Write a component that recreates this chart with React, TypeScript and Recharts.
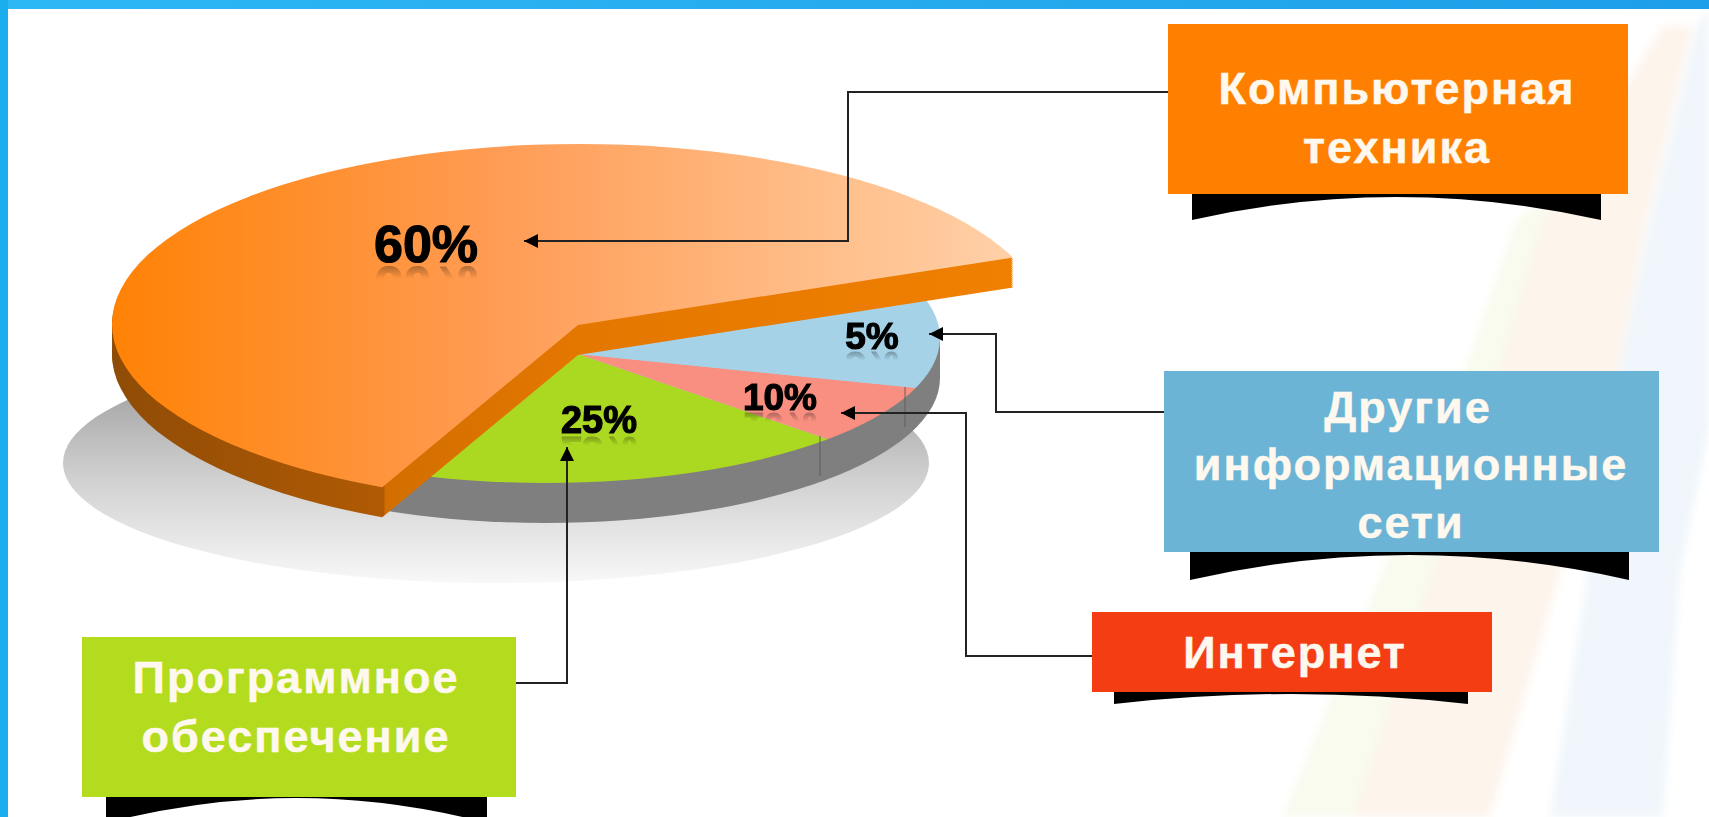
import { Cell, Pie, PieChart } from "recharts";
import type { CSSProperties } from "react";

const categories = ["Компьютерная техника", "Программное обеспечение", "Интернет", "Другие информационные сети"];
const shares = [60, 25, 10, 5];
const shareLabels = ["60%", "25%", "10%", "5%"];

const rows = categories.map((name, i) => ({ name, share: shares[i] }));
// the slice pulled out of the lower pie stays in the data so the angles add up
const lowerRows = [rows[1], rows[2], rows[3], rows[0]];
const upperRows = [rows[0], { name: "rest", share: 100 - shares[0] }];
const lowerFills = ["#abd821", "#f98f80", "#a6d2e8", "#a6d2e8"];

const FONT = "'Liberation Sans', Arial, sans-serif";
const SIZE = 420;
const CENTER = SIZE / 2;
const RADIUS = 200;
const NO_MARGIN = { top: 0, right: 0, bottom: 0, left: 0 };
const DEPTH_STEPS = [30, 28, 26, 24, 22, 20, 18, 16, 14, 12, 10, 8, 6, 4, 2];

// [a, b, c, d] of the css matrix that lays the flat pie down on the slanted plane
const UPPER_MATRIX = [3.265, 0.044, 0.527, 1.282];
const LOWER_MATRIX = [3.18, 1.085, -1.186, 0.936];
const UPPER_VERTEX = { x: 578, y: 325 };
const LOWER_VERTEX = { x: 578, y: 354 };
const UPPER_CLIP = "ellipse(467px 180px at 579px 324px)";
const LOWER_CLIP = "ellipse(395px 145px at 545px 338px)";

interface Stop {
  at: number;
  color: string;
}

const topStops: Stop[] = [
  { at: 110, color: "#ff8205" },
  { at: 500, color: "#ff9c55" },
  { at: 800, color: "#ffbc86" },
  { at: 1014, color: "#ffd0a8" },
];
const wallStops: Stop[] = [
  { at: 110, color: "#8f4c06" },
  { at: 384, color: "#b05a04" },
  { at: 385, color: "#d26e00" },
  { at: 578, color: "#e47700" },
  { at: 1014, color: "#f08000" },
];

const captions = [
  { text: "Компьютерная", x: 1397, y: 88 },
  { text: "техника", x: 1397, y: 147 },
  { text: "Другие", x: 1408, y: 407 },
  { text: "информационные", x: 1411, y: 464 },
  { text: "сети", x: 1411, y: 522 },
  { text: "Интернет", x: 1295, y: 652 },
  { text: "Программное", x: 296, y: 677 },
  { text: "обеспечение", x: 296, y: 736 },
];

const boxes = [
  { x: 1168, y: 24, w: 460, h: 170, color: "#ff8000" },
  { x: 1164, y: 371, w: 495, h: 181, color: "#6cb4d6" },
  { x: 1092, y: 612, w: 400, h: 80, color: "#f53d14" },
  { x: 82, y: 637, w: 434, h: 160, color: "#b3dc1e" },
];

const ribbons = [
  { x1: 1192, x2: 1601, top: 194, edge: 220, dip: 174 },
  { x1: 1190, x2: 1629, top: 552, edge: 580, dip: 530 },
  { x1: 1114, x2: 1468, top: 692, edge: 704, dip: 684 },
  { x1: 106, x2: 487, top: 797, edge: 823, dip: 773 },
];

const connectors = [
  "M1168 92 H848 V241 H524",
  "M1164 412 H996 V334 H929",
  "M1092 656 H966 V413 H841",
  "M516 683 H567 V447",
];

const labelSpots = [
  { x: 426, y: 244, size: 52 },
  { x: 599, y: 420, size: 38 },
  { x: 780, y: 397, size: 37 },
  { x: 872, y: 336, size: 37 },
];

const stripes = [
  { points: "1283,817 1353,817 1500,365 1543,219 1560,190 1517,219 1467,365", color: "#f8fbee" },
  { points: "1353,817 1490,817 1620,365 1647,219 1693,26 1663,26 1543,219 1500,365", color: "#fdf4ec" },
  { points: "1550,817 1663,817 1680,573 1709,430 1709,9 1697,26 1650,219 1620,365", color: "#f0f6fb" },
];

const layer: CSSProperties = { position: "absolute", left: 0, top: 0, width: 1709, height: 817 };

// gradient that only depends on the page x, written in the flat pie's own coordinates
function PageXGradient({ id, stops, matrix, vertexX }: { id: string; stops: Stop[]; matrix: number[]; vertexX: number }) {
  const [a, , c] = matrix;
  const len = a * a + c * c;
  const from = stops[0].at;
  const to = stops[stops.length - 1].at;
  const toFlat = (pageX: number) => ({
    x: CENTER + ((pageX - vertexX) * a) / len,
    y: CENTER + ((pageX - vertexX) * c) / len,
  });
  const p1 = toFlat(from);
  const p2 = toFlat(to);
  return (
    <defs>
      <linearGradient id={id} gradientUnits="userSpaceOnUse" x1={p1.x} y1={p1.y} x2={p2.x} y2={p2.y}>
        {stops.map((s) => (
          <stop key={s.at} offset={(s.at - from) / (to - from)} stopColor={s.color} />
        ))}
      </linearGradient>
    </defs>
  );
}

interface SlantedPieProps {
  data: { name: string; share: number }[];
  fills: string[];
  matrix: number[];
  vertex: { x: number; y: number };
  clip: string;
  startAngle: number;
  offset?: number;
  gradient?: { id: string; stops: Stop[] };
}

function SlantedPie({ data, fills, matrix, vertex, clip, startAngle, offset = 0, gradient }: SlantedPieProps) {
  return (
    <div style={{ ...layer, top: offset, clipPath: clip }}>
      <div
        style={{
          position: "absolute",
          left: vertex.x - CENTER,
          top: vertex.y - CENTER,
          width: SIZE,
          height: SIZE,
          transform: `matrix(${matrix.join(",")},0,0)`,
        }}
      >
        <PieChart width={SIZE} height={SIZE} margin={NO_MARGIN}>
          {gradient && <PageXGradient id={gradient.id} stops={gradient.stops} matrix={matrix} vertexX={vertex.x} />}
          <Pie
            data={data}
            dataKey="share"
            nameKey="name"
            cx={CENTER}
            cy={CENTER}
            innerRadius={0}
            outerRadius={RADIUS}
            startAngle={startAngle}
            endAngle={startAngle + 360}
            stroke="none"
            isAnimationActive={false}
          >
            {data.map((row, i) => (
              <Cell key={row.name} fill={fills[i]} />
            ))}
          </Pie>
        </PieChart>
      </div>
    </div>
  );
}

export default function App() {
  return (
    <div style={{ position: "absolute", left: 0, top: 0, width: 1709, height: 817, overflow: "hidden", background: "#fff", fontFamily: FONT }}>
      <svg width={1709} height={817} style={layer}>
        <defs>
          <linearGradient id="floor" x1="0" y1="0" x2="0" y2="1">
            <stop offset="0" stopColor="#8f8f8f" />
            <stop offset="0.55" stopColor="#cfcfcf" />
            <stop offset="1" stopColor="#f8f8f8" />
          </linearGradient>
          <linearGradient id="topBar" x1="0" y1="0" x2="1" y2="0">
            <stop offset="0" stopColor="#2db8f6" />
            <stop offset="1" stopColor="#1e9fe8" />
          </linearGradient>
          <filter id="soft">
            <feGaussianBlur stdDeviation="4" />
          </filter>
        </defs>
        <g filter="url(#soft)">
          {stripes.map((s) => (
            <polygon key={s.color} points={s.points} fill={s.color} />
          ))}
        </g>
        <ellipse cx={496} cy={463} rx={433} ry={120} fill="url(#floor)" />
        <rect x={150} y={338} width={790} height={40} fill="#7f7f7f" />
        <ellipse cx={545} cy={378} rx={395} ry={145} fill="#7f7f7f" />
        <ellipse cx={545} cy={338} rx={394} ry={144} fill="#a6d2e8" />
      </svg>

      <SlantedPie
        data={lowerRows}
        fills={lowerFills}
        matrix={LOWER_MATRIX}
        vertex={LOWER_VERTEX}
        clip={LOWER_CLIP}
        startAngle={270}
      />

      <svg width={1709} height={817} style={layer}>
        <path d="M820 436 V476 M905 387 V427" stroke="#5f5f5f" strokeWidth={1} fill="none" />
      </svg>

      {DEPTH_STEPS.map((depth) => (
        <SlantedPie
          key={depth}
          data={upperRows}
          fills={["url(#wall" + depth + ")", "none"]}
          matrix={UPPER_MATRIX}
          vertex={UPPER_VERTEX}
          clip={UPPER_CLIP}
          startAngle={22}
          offset={depth}
          gradient={{ id: "wall" + depth, stops: wallStops }}
        />
      ))}
      <SlantedPie
        data={upperRows}
        fills={["url(#orangeTop)", "none"]}
        matrix={UPPER_MATRIX}
        vertex={UPPER_VERTEX}
        clip={UPPER_CLIP}
        startAngle={22}
        gradient={{ id: "orangeTop", stops: topStops }}
      />

      {shareLabels.map((label, i) => (
        <div
          key={label}
          style={{
            position: "absolute",
            left: labelSpots[i].x,
            top: labelSpots[i].y,
            transform: "translate(-50%, -50%)",
            fontSize: labelSpots[i].size,
            fontWeight: 700,
            lineHeight: 1,
            color: "#000",
            whiteSpace: "nowrap",
            WebkitTextStroke: "1.2px #000",
            WebkitBoxReflect: `below ${-Math.round(labelSpots[i].size * 0.22)}px linear-gradient(transparent 62%, rgba(0,0,0,0.45))`,
          } as CSSProperties}
        >
          {label}
        </div>
      ))}

      <svg width={1709} height={817} style={layer}>
        <defs>
          <marker id="head" viewBox="0 0 10 10" refX="10" refY="5" markerWidth="17" markerHeight="14" orient="auto" markerUnits="userSpaceOnUse">
            <path d="M0 0 L10 5 L0 10 Z" fill="#000" />
          </marker>
        </defs>
        {connectors.map((d) => (
          <path key={d} d={d} fill="none" stroke="#222" strokeWidth={2} markerEnd="url(#head)" />
        ))}
        {ribbons.map((r) => (
          <path
            key={r.x1}
            d={`M${r.x1} ${r.top} H${r.x2} V${r.edge} Q${(r.x1 + r.x2) / 2} ${r.dip} ${r.x1} ${r.edge} Z`}
            fill="#000"
          />
        ))}
        {boxes.map((b) => (
          <rect key={b.color} x={b.x} y={b.y} width={b.w} height={b.h} fill={b.color} />
        ))}
        <rect x={0} y={0} width={1709} height={9} fill="url(#topBar)" />
        <rect x={0} y={0} width={8} height={817} fill="#1aaeee" />
      </svg>

      {captions.map((c) => (
        <div
          key={c.text}
          style={{
            position: "absolute",
            left: c.x,
            top: c.y,
            transform: "translate(-50%, -50%)",
            fontSize: 45,
            fontWeight: 700,
            lineHeight: 1,
            letterSpacing: 2,
            color: "#fff8ee",
            whiteSpace: "nowrap",
            WebkitTextStroke: "0.5px #fff8ee",
          } as CSSProperties}
        >
          {c.text}
        </div>
      ))}
    </div>
  );
}
